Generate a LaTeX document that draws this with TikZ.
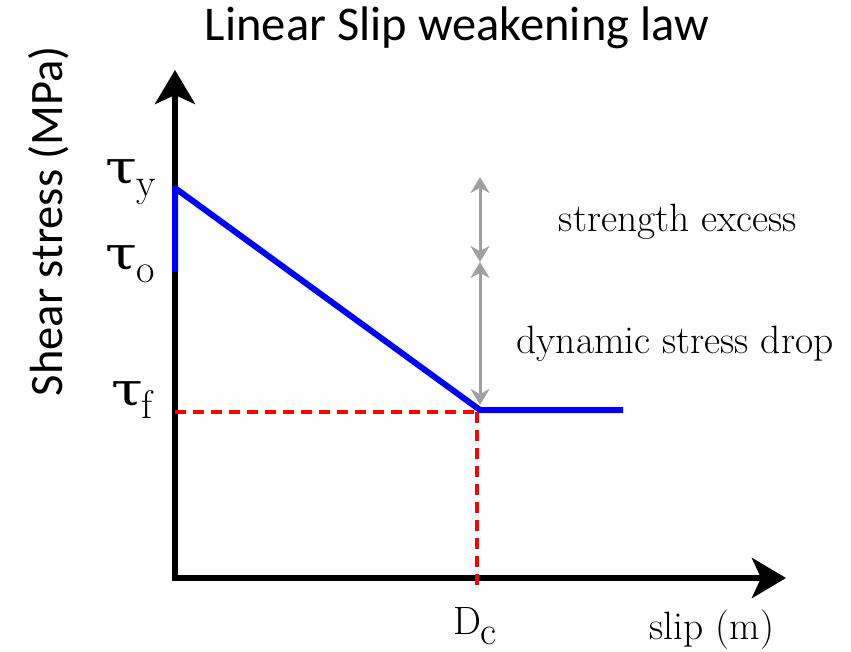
\documentclass[tikz,border=0pt]{standalone}
\usepackage{fontspec}
\setsansfont{Carlito}
\newfontfamily\greekfont{DejaVu Serif}
\usepackage{tikz}
\usetikzlibrary{arrows.meta}

\definecolor{lawblue}{RGB}{0,0,255}
\definecolor{guidered}{RGB}{255,0,0}
\definecolor{gapgray}{RGB}{160,160,160}

% stress level: greek letter with a lowered index
\newcommand{\stresslevel}[1]{\scalebox{1.25}[1]{\greekfont\fontsize{46}{50}\selectfont τ}\kern-1pt\raisebox{-13pt}{\fontsize{40}{44}\selectfont #1}}

\begin{document}
\begin{tikzpicture}[
                x=1pt, y=-1pt,
                axis/.style={line width=6pt, -{Stealth[length=34pt, width=40pt, inset=9pt]}},
                law/.style={line width=6pt, lawblue},
                guide/.style={line width=3.5pt, guidered, dash pattern=on 11pt off 7pt},
                gap/.style={line width=3pt, gapgray, {Stealth[length=16pt, width=19pt]}-{Stealth[length=16pt, width=19pt]}},
                title/.style={font=\sffamily\fontsize{48.5}{52}\selectfont},
                ytitle/.style={font=\sffamily\fontsize{46.5}{50}\selectfont, rotate=90},
                note/.style={font=\fontsize{39.5}{44}\selectfont},
            ]
            \useasboundingbox (0,0) rectangle (851,652);

            % --- points -----------------------------------------------------
            \coordinate (origin) at (175,578);
            \coordinate (ytip)   at (175,70);
            \coordinate (xtip)   at (786,578);
            \coordinate (tau_o)  at (175,272);
            \coordinate (tau_y)  at (175,188);
            \coordinate (weak)   at (480,410);
            \coordinate (resid)  at (623,410);
            \coordinate (tau_f)  at (175,412);
            \coordinate (dc_top) at (477,412);
            \coordinate (dc_low) at (477,590);
            \coordinate (ex_top) at (480,177);
            \coordinate (ex_mid) at (480,262);
            \coordinate (dr_low) at (480,405);

            % --- axes -------------------------------------------------------
            \draw[axis] (origin) -- (ytip);
            \draw[axis] (origin) -- (xtip);
            \fill (origin) ++(-3,-3) rectangle ++(6,6);

            % --- guides -----------------------------------------------------
            \draw[guide] (tau_f) -- (dc_top);
            \draw[guide] (dc_top) -- (dc_low);

            % --- friction law -----------------------------------------------
            \draw[law, line join=round] (tau_o) -- (tau_y) -- (weak) -- (resid);

            % --- stress gaps ------------------------------------------------
            \draw[gap] (ex_top) -- (ex_mid);
            \draw[gap] (ex_mid) -- (dr_low);

            % --- labels -----------------------------------------------------
            \node (lab_y) at (131,182) {\stresslevel{y}};
            \node (lab_o) at (130,264) {\stresslevel{o}};
            \node (lab_f) at (132,400) {\stresslevel{f}};
            \node[title] (head) at (457,28) {Linear Slip weakening law};
            \node[ytitle] (ylab) at (49,221) {Shear stress (MPa)};
            \node[note] (lab_dc) at (475,626) {D\kern-1pt\raisebox{-10pt}{c}};
            \node[note] (slip) at (712,630) {slip (m)};
            \node[note] (excess) at (678,222) {strength excess};
            \node[note] (drop) at (675,344) {dynamic stress drop};
        \end{tikzpicture}
\end{document}
